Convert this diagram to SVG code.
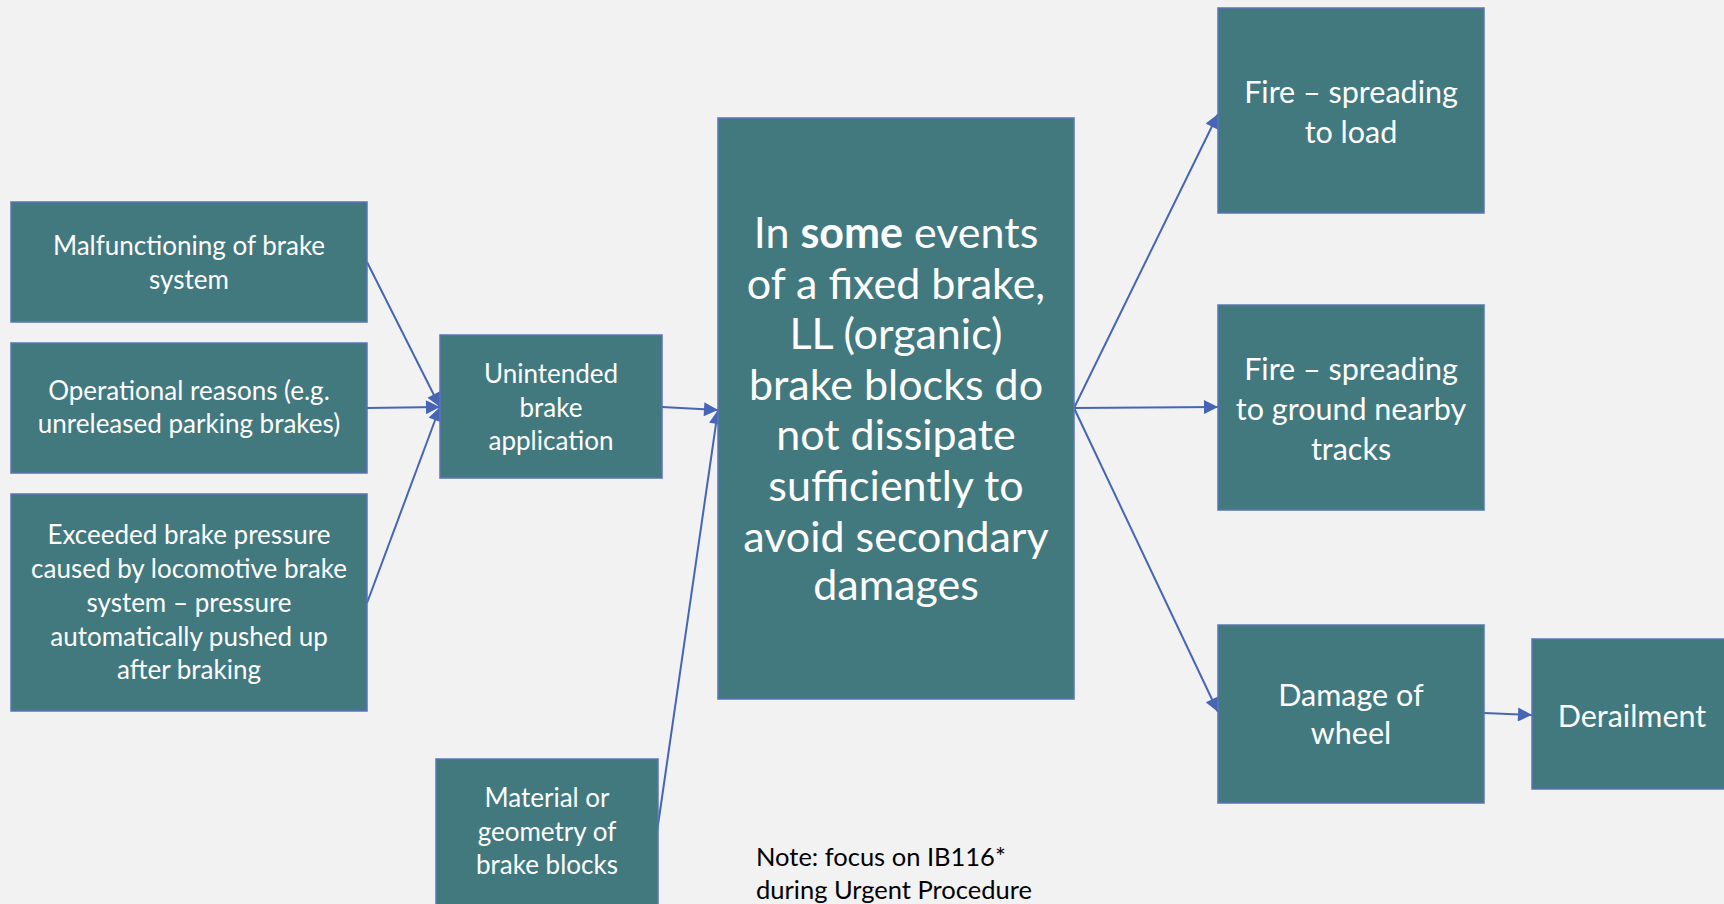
<svg xmlns="http://www.w3.org/2000/svg" width="1724" height="904" viewBox="0 0 1724 904">
<defs>
<style>
.box{fill:#41797F;stroke:#5B74B8;stroke-width:1.5}
.t{font-family:Lato,"Open Sans",sans-serif;fill:#FFFFFF;text-anchor:middle}
.s{font-size:26px}
.m{font-size:30.5px}
.l{font-size:43px}
.c{stroke:#4665B5;stroke-width:2;fill:none;marker-end:url(#ah)}
.note{font-family:Lato,"Open Sans",sans-serif;font-size:25.5px;fill:#000000}
</style>
<marker id="ah" viewBox="0 0 10 10" refX="10" refY="5" markerWidth="15" markerHeight="14" markerUnits="userSpaceOnUse" orient="auto">
<path d="M0,0 L10,5 L0,10 z" fill="#4665B5"/>
</marker>
</defs>
<rect width="1724" height="904" fill="#F2F2F2"/>
<g id="connectors">
<line class="c" x1="367" y1="262" x2="440" y2="407"/>
<line class="c" x1="367" y1="408" x2="440" y2="407"/>
<line class="c" x1="367" y1="603" x2="440" y2="407"/>
<line class="c" x1="662" y1="407" x2="718" y2="410"/>
<line class="c" x1="657" y1="832" x2="718" y2="410"/>
<line class="c" x1="1074" y1="408" x2="1218" y2="114"/>
<line class="c" x1="1074" y1="408" x2="1218" y2="407"/>
<line class="c" x1="1074" y1="408" x2="1218" y2="712"/>
<line class="c" x1="1484" y1="713" x2="1532" y2="715"/>
</g>
<g id="malfunctioning">
<rect class="box" x="11" y="202" width="356" height="120"/>
<text class="t s" x="189" y="255">Malfunctioning of brake</text>
<text class="t s" x="189" y="289">system</text>
</g>
<g id="operational">
<rect class="box" x="11" y="343" width="356" height="130"/>
<text class="t s" x="189" y="400">Operational reasons (e.g.</text>
<text class="t s" x="189" y="433">unreleased parking brakes)</text>
</g>
<g id="exceeded">
<rect class="box" x="11" y="494" width="356" height="217"/>
<text class="t s" x="189" y="544">Exceeded brake pressure</text>
<text class="t s" x="189" y="578">caused by locomotive brake</text>
<text class="t s" x="189" y="612">system – pressure</text>
<text class="t s" x="189" y="646">automatically pushed up</text>
<text class="t s" x="189" y="679">after braking</text>
</g>
<g id="unintended">
<rect class="box" x="440" y="335" width="222" height="143"/>
<text class="t s" x="551" y="383">Unintended</text>
<text class="t s" x="551" y="417">brake</text>
<text class="t s" x="551" y="450">application</text>
</g>
<g id="material">
<rect class="box" x="436" y="759" width="222" height="150"/>
<text class="t s" x="547" y="807">Material or</text>
<text class="t s" x="547" y="841">geometry of</text>
<text class="t s" x="547" y="874">brake blocks</text>
</g>
<g id="central">
<rect class="box" x="718" y="118" width="356" height="581"/>
<text class="t l" x="896" y="248">In <tspan font-weight="bold">some</tspan> events</text>
<text class="t l" x="896" y="299">of a fixed brake,</text>
<text class="t l" x="896" y="349">LL (organic)</text>
<text class="t l" x="896" y="400">brake blocks do</text>
<text class="t l" x="896" y="450">not dissipate</text>
<text class="t l" x="896" y="501">sufficiently to</text>
<text class="t l" x="896" y="552">avoid secondary</text>
<text class="t l" x="896" y="600">damages</text>
</g>
<g id="fire-load">
<rect class="box" x="1218" y="8" width="266" height="205"/>
<text class="t m" x="1351" y="103">Fire – spreading</text>
<text class="t m" x="1351" y="143">to load</text>
</g>
<g id="fire-ground">
<rect class="box" x="1218" y="305" width="266" height="205"/>
<text class="t m" x="1351" y="380">Fire – spreading</text>
<text class="t m" x="1351" y="420">to ground nearby</text>
<text class="t m" x="1351" y="460">tracks</text>
</g>
<g id="damage">
<rect class="box" x="1218" y="625" width="266" height="178"/>
<text class="t m" x="1351" y="706">Damage of</text>
<text class="t m" x="1351" y="744">wheel</text>
</g>
<g id="derailment">
<rect class="box" x="1532" y="639" width="200" height="150"/>
<text class="t m" x="1632" y="727">Derailment</text>
</g>
<g id="note">
<text class="note" x="756" y="866">Note: focus on IB116*</text>
<text class="note" x="756" y="899">during Urgent Procedure</text>
</g>
</svg>
